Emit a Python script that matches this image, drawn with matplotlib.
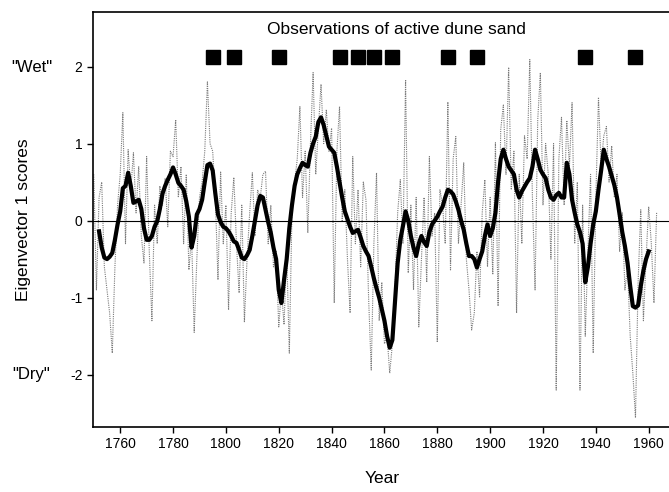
import numpy as np
import matplotlib
matplotlib.use('Agg')
import matplotlib.pyplot as plt

plt.rcParams['font.family'] = ['Liberation Sans', 'DejaVu Sans']

# yillik degerler (ince gri cizgi), 1750-1963
annual_years = np.arange(1750, 1964)
annual_vals = [
    0.6, -0.9, 0.3, 0.5, -0.6, -0.9, -1.2, -1.72, -0.6, 0.2,
    0.6, 1.4, -0.3, 0.92, 0.4, 0.88, 0.1, 0.7, -0.2, -0.55,
    0.83, -0.4, -1.3, 0.2, -0.3, 0.45, 0.2, 0.55, -0.08, 0.9,
    0.83, 1.31, 0.3, 0.7, -0.3, 0.6, -0.64, -0.2, -1.45, -0.5,
    0.3, 0.5, 0.9, 1.8, 1.0, 0.9, 0.3, -0.77, 0.63, -0.3,
    0.2, -1.16, 0.1, 0.56, -0.3, -0.94, 0.2, -1.32, -0.5, 0.1,
    0.62, -0.2, 0.4, 0.3, 0.6, 0.64, -0.3, 0.2, -0.6, -0.4,
    -1.38, -0.9, -1.35, -0.4, -1.72, 0.1, 0.5, 0.8, 1.48, 0.3,
    0.9, -0.16, 1.0, 1.92, 0.6, 1.2, 1.77, 1.0, 1.44, 0.9,
    1.2, -1.07, 0.9, 1.48, 0.0, 0.4, -0.5, -1.2, 0.83, -0.3,
    0.4, -0.6, 0.5, 0.27, -1.0, -1.94, -0.3, 0.62, -1.3, -0.8,
    -1.6, -1.5, -1.98, -1.6, -0.9, 0.1, 0.53, -0.3, 1.83, -0.68,
    0.2, -0.9, 0.3, -1.38, -0.5, 0.3, -0.8, 0.83, -0.2, 0.1,
    -1.58, 0.4, 0.2, -0.3, 1.54, -0.64, 0.8, 1.09, -0.3, 0.2,
    0.75, -0.5, -0.9, -1.42, -1.2, -0.4, -1.0, 0.1, 0.53, -0.6,
    0.3, -0.7, 1.01, -1.11, 1.18, 1.5, 0.6, 1.99, 0.4, 0.9,
    -1.2, 0.6, -0.3, 1.1, 0.8, 2.09, 0.3, -0.9, 1.3, 1.92,
    0.2, 1.0, 0.6, -0.5, 1.0, -2.2, 0.8, 1.34, 0.2, 1.3,
    0.7, 1.53, -0.3, 0.5, -2.2, 0.2, -1.5, -0.4, 0.6, -1.72,
    0.3, 1.6, 0.7, 1.1, 1.22, 0.5, 0.97, 0.3, 0.6, -0.4,
    0.1, -0.9, -0.6, -1.5, -1.98, -2.56, -0.8, 0.14, -1.3, -0.5,
    0.18, -0.3, -1.07, 0.1,
]

# yumusatilmis seri (kalin siyah cizgi), 1752-1960
smooth_years = np.arange(1752, 1961)
smooth_vals = [
    -0.14, -0.35, -0.48, -0.5, -0.47, -0.42, -0.25, -0.05,
    0.12, 0.42, 0.45, 0.62, 0.45, 0.23, 0.25, 0.27, 0.15, -0.1,
    -0.25, -0.25, -0.2, -0.08, -0.01, 0.15, 0.35, 0.45, 0.53, 0.6,
    0.69, 0.6, 0.49, 0.45, 0.4, 0.25, 0.05, -0.35, -0.2, 0.08,
    0.15, 0.27, 0.5, 0.72, 0.74, 0.65, 0.35, 0.08, -0.02, -0.08,
    -0.1, -0.14, -0.2, -0.27, -0.29, -0.38, -0.48, -0.5, -0.45, -0.38,
    -0.2, 0.0, 0.2, 0.32, 0.3, 0.14, -0.02, -0.16, -0.35, -0.5,
    -0.9, -1.07, -0.77, -0.5, -0.1, 0.2, 0.45, 0.6, 0.68, 0.75,
    0.72, 0.7, 0.88, 1.0, 1.09, 1.28, 1.34, 1.24, 1.1, 0.96,
    0.92, 0.88, 0.7, 0.5, 0.3, 0.12, 0.02, -0.08, -0.16, -0.14,
    -0.12, -0.22, -0.33, -0.4, -0.46, -0.6, -0.75, -0.88, -1.0, -1.15,
    -1.3, -1.5, -1.65, -1.55, -1.05, -0.55, -0.25, -0.07, 0.12, 0.0,
    -0.2, -0.35, -0.46, -0.3, -0.2, -0.28, -0.33, -0.15, -0.05, 0.0,
    0.05, 0.12, 0.18, 0.3, 0.4, 0.38, 0.34, 0.25, 0.14, 0.0,
    -0.12, -0.3, -0.46, -0.46, -0.5, -0.61, -0.5, -0.4, -0.2, -0.05,
    -0.2, -0.1, 0.1, 0.5, 0.8, 0.92, 0.8, 0.7, 0.65, 0.6,
    0.4, 0.3, 0.38, 0.44, 0.5, 0.55, 0.7, 0.92, 0.8, 0.66,
    0.6, 0.55, 0.4, 0.3, 0.27, 0.33, 0.36, 0.3, 0.3, 0.75,
    0.6, 0.27, 0.1, -0.05, -0.15, -0.3, -0.8, -0.6, -0.3, -0.05,
    0.12, 0.4, 0.65, 0.92, 0.8, 0.7, 0.58, 0.46, 0.3, 0.08,
    -0.15, -0.33, -0.55, -0.85, -1.11, -1.13, -1.1, -0.85, -0.65, -0.5,
    -0.4,
]

# aktif kumul gozlem yillari
dune_years = [1795, 1803, 1820, 1843, 1850, 1856, 1863, 1884, 1895, 1936, 1955]
dune_level = 2.12

fig = plt.figure(figsize=(6.69, 4.92), dpi=100)
ax = fig.add_axes([0.139, 0.132, 0.865, 0.844])

ax.plot(annual_years, annual_vals, color='#7a7a7a', lw=0.8, ls=(0, (1, 1)))
ax.plot(smooth_years, smooth_vals, color='black', lw=3.0, solid_joinstyle='round')
ax.axhline(0, color='black', lw=0.8)
ax.plot(dune_years, [dune_level] * len(dune_years), 's', color='black', ms=10)

ax.text(1864.6, 2.48, 'Observations of active dune sand', fontsize=12.5, ha='center', va='center')

ax.set_xlim(1749.7, 1968.7)
ax.set_ylim(-2.68, 2.71)
ax.set_xticks(range(1760, 1961, 20))
ax.set_yticks([-2, -1, 0, 1, 2])
ax.set_yticklabels(['-2', '-1', '0', '1', '2'])
ax.tick_params(direction='out', length=4, width=1, labelsize=10)
ax.spines['right'].set_visible(False)
for s in ['left', 'bottom', 'top']:
    ax.spines[s].set_linewidth(1.2)

ax.set_xlabel('Year', fontsize=12.5, labelpad=14)
ax.set_ylabel('Eigenvector 1 scores', fontsize=12.5, labelpad=28)

fig.text(0.047, 1 - 67 / 492, '"Wet"', fontsize=12, ha='center', va='center')
fig.text(0.047, 1 - 374 / 492, '"Dry"', fontsize=12, ha='center', va='center')

fig.savefig('out.png', dpi=100)
